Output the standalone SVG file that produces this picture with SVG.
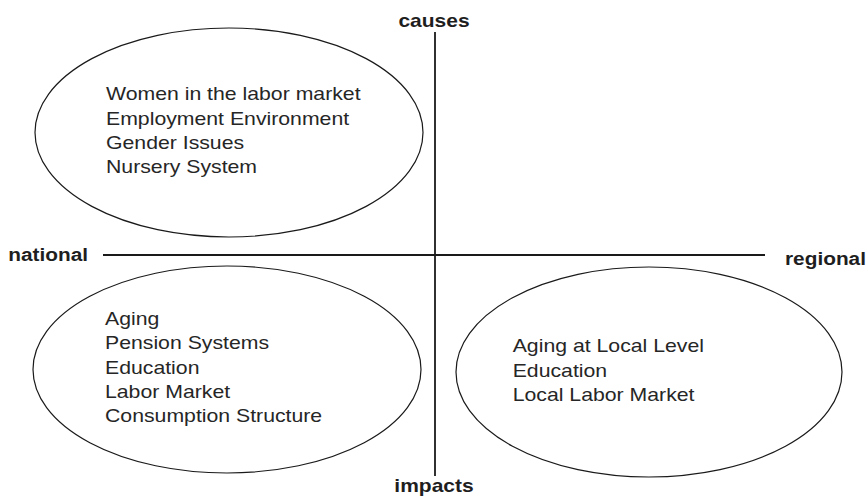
<svg xmlns="http://www.w3.org/2000/svg" width="868" height="500" viewBox="0 0 868 500">
  <style>
    .axis { stroke: #1a1a1a; stroke-width: 1.8; fill: none; }
    .bubble { stroke: #1a1a1a; stroke-width: 1.2; fill: none; }
    .label { font-family: "Liberation Sans", Arial, sans-serif; font-weight: bold; font-size: 18.6px; fill: #1e1e1e; }
    .item { font-family: "Liberation Sans", Arial, sans-serif; font-size: 17.7px; fill: #262626; }
  </style>
  <rect width="868" height="500" fill="#ffffff"/>

  <!-- axes -->
  <g id="axes">
    <line class="axis" x1="435" y1="32" x2="435" y2="476"/>
    <line class="axis" x1="103" y1="255" x2="765" y2="255"/>
  </g>

  <!-- axis labels -->
  <g id="axis-labels">
    <text class="label" text-anchor="middle" transform="translate(434 26.5) scale(1.13 1)">causes</text>
    <text class="label" text-anchor="middle" transform="translate(434 492) scale(1.13 1)">impacts</text>
    <text class="label" transform="translate(8.3 260.7) scale(1.12 1)">national</text>
    <text class="label" transform="translate(785 265) scale(1.12 1)">regional</text>
  </g>

  <!-- national causes -->
  <g id="national-causes">
    <ellipse class="bubble" cx="229" cy="132.5" rx="194" ry="104.5"/>
    <text class="item" transform="translate(106 0) scale(1.2 1)">
      <tspan x="0" y="100.5">Women in the labor market</tspan>
      <tspan x="0" y="124.8">Employment Environment</tspan>
      <tspan x="0" y="149.1">Gender Issues</tspan>
      <tspan x="0" y="173.4">Nursery System</tspan>
    </text>
  </g>

  <!-- national impacts -->
  <g id="national-impacts">
    <ellipse class="bubble" cx="227" cy="369.5" rx="194" ry="103.5"/>
    <text class="item" transform="translate(105 0) scale(1.2 1)">
      <tspan x="0" y="325">Aging</tspan>
      <tspan x="0" y="349.3">Pension Systems</tspan>
      <tspan x="0" y="373.6">Education</tspan>
      <tspan x="0" y="397.9">Labor Market</tspan>
      <tspan x="0" y="422.2">Consumption Structure</tspan>
    </text>
  </g>

  <!-- regional impacts -->
  <g id="regional-impacts">
    <ellipse class="bubble" cx="649" cy="372" rx="193" ry="105"/>
    <text class="item" transform="translate(512.7 0) scale(1.2 1)">
      <tspan x="0" y="352.4">Aging at Local Level</tspan>
      <tspan x="0" y="376.7">Education</tspan>
      <tspan x="0" y="401">Local Labor Market</tspan>
    </text>
  </g>
</svg>
